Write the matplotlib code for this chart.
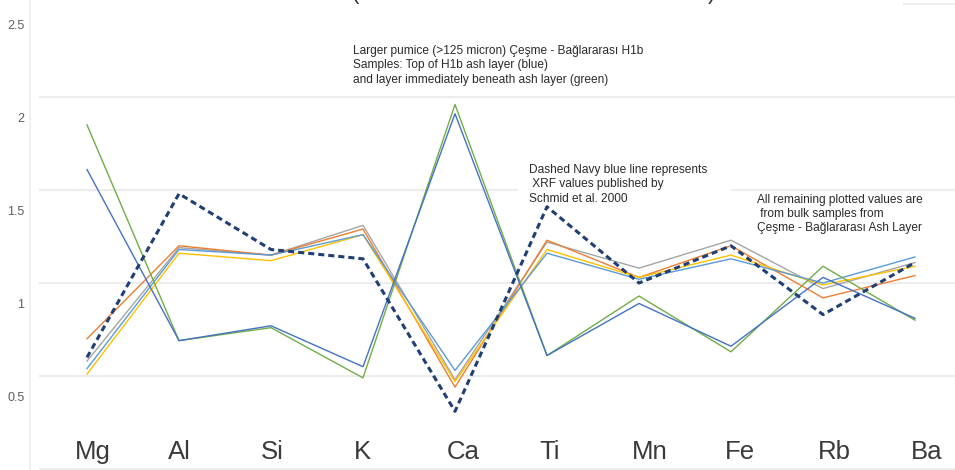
import matplotlib
matplotlib.use("Agg")
import matplotlib.pyplot as plt
from matplotlib.transforms import ScaledTranslation
from matplotlib.patches import Rectangle

elements = ["Mg", "Al", "Si", "K", "Ca", "Ti", "Mn", "Fe", "Rb", "Ba"]

pumice_top_blue = [1.61, 0.69, 0.77, 0.55, 1.91, 0.61, 0.89, 0.66, 1.03, 0.81]
pumice_beneath_green = [1.85, 0.69, 0.76, 0.49, 1.96, 0.61, 0.93, 0.63, 1.09, 0.80]
schmid_2000 = [0.60, 1.48, 1.18, 1.13, 0.31, 1.41, 1.00, 1.20, 0.83, 1.11]
bulk_orange = [0.70, 1.20, 1.15, 1.29, 0.44, 1.23, 1.03, 1.20, 0.92, 1.04]
bulk_gray = [0.58, 1.19, 1.15, 1.31, 0.48, 1.22, 1.08, 1.23, 0.97, 1.11]
bulk_lightblue = [0.54, 1.18, 1.15, 1.26, 0.53, 1.16, 1.02, 1.13, 1.00, 1.14]
bulk_yellow = [0.51, 1.16, 1.12, 1.26, 0.47, 1.18, 1.03, 1.15, 0.99, 1.09]

ytick_values = [0.5, 1, 1.5, 2, 2.5]
ytick_labels = ["0.5", "1", "1.5", "2", "2.5"]
grid_values = [0, 0.5, 1, 1.5, 2]

plt.rcParams['font.family'] = ['Liberation Sans', 'DejaVu Sans']

W, H = 955, 470
fig = plt.figure(figsize=(W / 100, H / 100), dpi=100)
fig.patch.set_facecolor("white")
ax_left_px, ax_right_px = 30, 955
ax = fig.add_axes([ax_left_px / W, 0, (ax_right_px - ax_left_px) / W, 1])

x = list(range(len(elements)))
px_per_unit = 92.0
xmin = -(87 - ax_left_px) / px_per_unit
xmax = xmin + (ax_right_px - ax_left_px) / px_per_unit
ax.set_xlim(xmin, xmax)
ax.set_ylim(-0.0054, 2.5215)

for s in ["top", "right", "bottom"]:
    ax.spines[s].set_visible(False)
ax.spines["left"].set_color("#eeeeee")
ax.spines["left"].set_linewidth(1.2)

gx0 = (40 - ax_left_px) / (ax_right_px - ax_left_px)
for g in grid_values:
    ax.axhline(g, xmin=gx0, xmax=1.0, color="#ececec", lw=1.5, zorder=0)
ax.axhline(2.5, xmin=(904 - ax_left_px) / (ax_right_px - ax_left_px), xmax=1.0,
           color="#ececec", lw=1.5, zorder=0)

ax.set_xticks([])
ax.set_yticks(ytick_values)
ax.set_yticklabels(ytick_labels)
ax.tick_params(axis="y", length=0, pad=4, labelsize=9, labelcolor="#5e5e5e")
off = ScaledTranslation(0, -21 / 100, fig.dpi_scale_trans)
for lab in ax.get_yticklabels():
    lab.set_transform(lab.get_transform() + off)

# white box behind the "Dashed Navy..." note (it hides the gridline there)
ax.add_patch(Rectangle((518 / W, 1 - 205 / H), (731 - 518) / W, 45 / H,
                       transform=fig.transFigure, facecolor="white",
                       edgecolor="none", zorder=1))

lw = 1.0
ax.plot(x, bulk_gray, color="#a5a5a5", lw=lw, zorder=3)
ax.plot(x, bulk_orange, color="#ed7d31", lw=lw, zorder=3)
ax.plot(x, bulk_yellow, color="#ffc000", lw=lw, zorder=3)
ax.plot(x, bulk_lightblue, color="#5b9bd5", lw=lw, zorder=3)
ax.plot(x, pumice_beneath_green, color="#70ad47", lw=lw, zorder=3)
ax.plot(x, pumice_top_blue, color="#4472c4", lw=lw, zorder=3)
ax.plot(x, schmid_2000, color="#203f74", lw=2.2, ls=(0, (2.0, 1.3)), zorder=4)

# category labels are left-aligned, slightly left of each point
for i, name in enumerate(elements):
    ax.text(i * 1.009 - 0.13, (470 - 452) / 470, name, transform=ax.get_xaxis_transform(),
            ha="left", va="center", fontsize=18.5, color="#3a3a3a")

tkw = dict(fontsize=8.6, color="#2a2a2a", linespacing=1.25, zorder=2)
fig.text(353 / W, 1 - 45 / H,
         "Larger pumice (>125 micron) Çeşme - Bağlararası H1b\n"
         "Samples: Top of H1b ash layer (blue)\n"
         "and layer immediately beneath ash layer (green)",
         ha="left", va="top", **tkw)
fig.text(529 / W, 1 - 164 / H,
         "Dashed Navy blue line represents\n XRF values published by\nSchmid et al. 2000",
         ha="left", va="top", **tkw)
fig.text(757 / W, 1 - 194 / H,
         "All remaining plotted values are\n from bulk samples from\nÇeşme - Bağlararası Ash Layer",
         ha="left", va="top", **tkw)

fig.text(355 / W, 1 + 1 / H, "(", ha="center", va="baseline", fontsize=16, color="#333333")
fig.text(712 / W, 1 + 1 / H, ")", ha="center", va="baseline", fontsize=16, color="#333333")

fig.savefig("out.png", dpi=100, facecolor="white")
